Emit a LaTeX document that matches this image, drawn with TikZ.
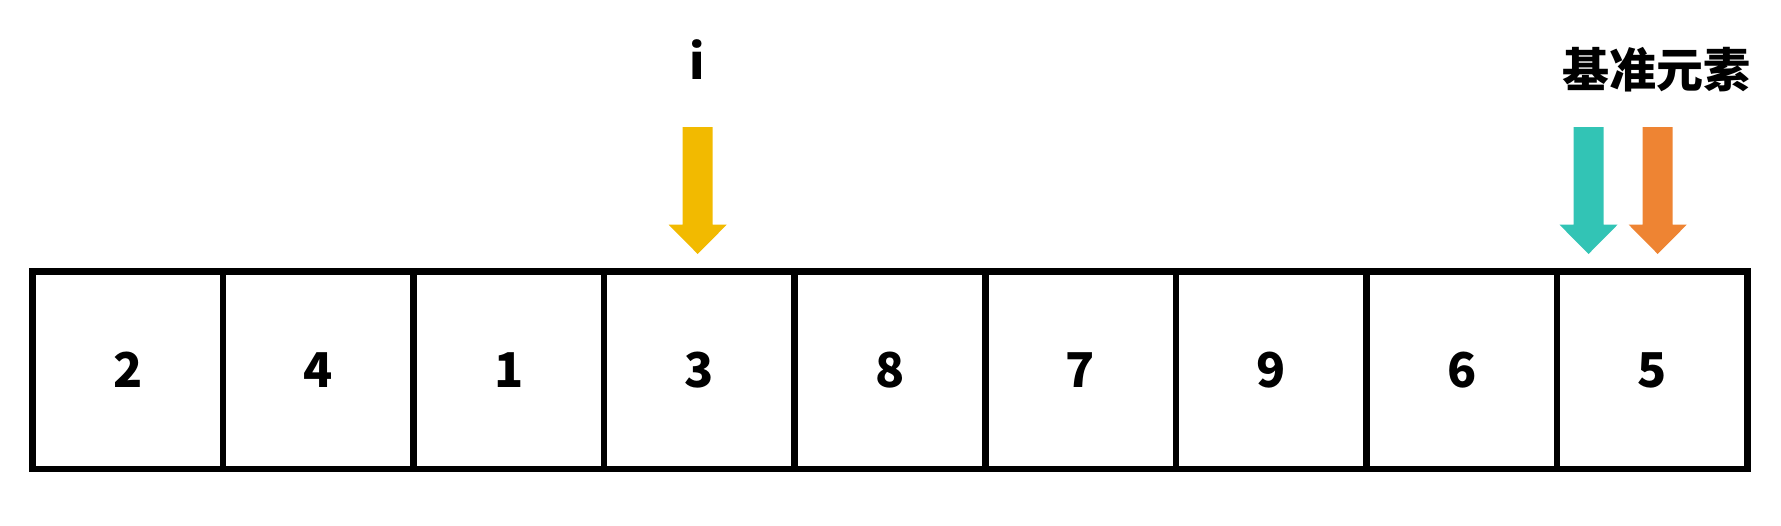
\documentclass[tikz,border=0pt]{standalone}
\usepackage{fontspec}
\newfontfamily\cjk{Noto Sans CJK SC}
\definecolor{ayellow}{HTML}{F2BA00}
\definecolor{ateal}{HTML}{32C4B5}
\definecolor{aorange}{HTML}{EE8433}
\tikzset{
  cell/.style={draw=black, line width=3.25pt, minimum width=95.28pt, minimum height=98.75pt,
    inner sep=0pt, font=\cjk\bfseries\fontsize{24pt}{28pt}\selectfont, text height=17.6pt, text depth=0pt},
  lbl/.style={font=\cjk\bfseries\fontsize{24pt}{28pt}\selectfont, inner sep=0pt, anchor=base},
  clbl/.style={font=\cjk\bfseries\fontsize{23.5pt}{28pt}\selectfont, inner sep=0pt, anchor=base},
  darrow/.pic={\fill[pic actions] (-15,0) -- (15,0) -- (15,97.7) -- (29,97.7) -- (0,127) -- (-29,97.7) -- (-15,97.7) -- cycle;}
}
\begin{document}
\begin{tikzpicture}[x=0.5pt,y=-0.5pt]
\useasboundingbox (0,0) rectangle (1781,525);
\foreach \v [count=\k from 0] in {2,4,1,3,8,7,9,6,5} {
  \node[cell] (c\k) at ({32.5+190.556*(\k+0.5)},370.25) {\v};
}
\node[lbl] (ilbl) at (697.5,79) {i};
\node[clbl] (plbl) at (1656.7,87) {基准元素};
\pic[fill=ayellow] (ia) at (697.7,127) {darrow};
\pic[fill=ateal] (ta) at (1588.5,127) {darrow};
\pic[fill=aorange] (oa) at (1657.7,127) {darrow};
\end{tikzpicture}
\end{document}
